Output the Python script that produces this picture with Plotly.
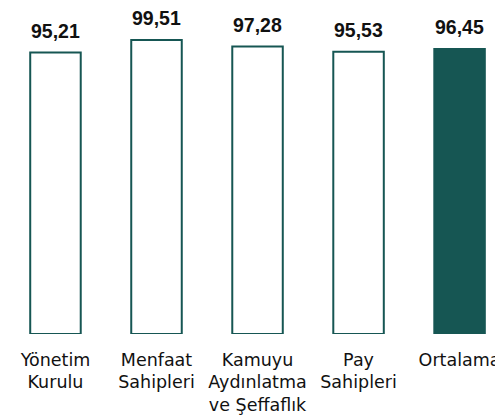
import plotly.graph_objects as go

categories = ["Yönetim<br>Kurulu", "Menfaat<br>Sahipleri", "Kamuyu<br>Aydınlatma<br>ve Şeffaflık", "Pay<br>Sahipleri", "Ortalama"]
values = [95.21, 99.51, 97.28, 95.53, 96.45]
value_labels = ["95,21", "99,51", "97,28", "95,53", "96,45"]

teal = "#165653"
fills = ["white", "white", "white", "white", teal]

fig = go.Figure()
fig.add_trace(go.Bar(
    x=categories, y=values,
    width=0.5,
    marker=dict(color=fills, line=dict(color=teal, width=2)),
    hoverinfo="skip",
))

for c, v, t in zip(categories, values, value_labels):
    fig.add_annotation(x=c, y=v, text=f"<b>{t}</b>", showarrow=False,
                       yanchor="bottom", yshift=9,
                       font=dict(family="Liberation Sans, Arial", size=19.5, color="#111111"))

fig.update_layout(
    width=495, height=409,
    margin=dict(l=0, r=0, t=8, b=83, autoexpand=False),
    plot_bgcolor="white", paper_bgcolor="white",
    showlegend=False,
    xaxis=dict(range=[-0.47, 4.43], showgrid=False, zeroline=False, showline=False,
               automargin=False,
               ticks="", tickfont=dict(family="DejaVu Sans", size=17.5, color="#111111"),
               ticklabelstandoff=13, fixedrange=True),
    yaxis=dict(range=[0, 107.6], visible=False, automargin=False, fixedrange=True),
)

fig.write_html("out.html")
